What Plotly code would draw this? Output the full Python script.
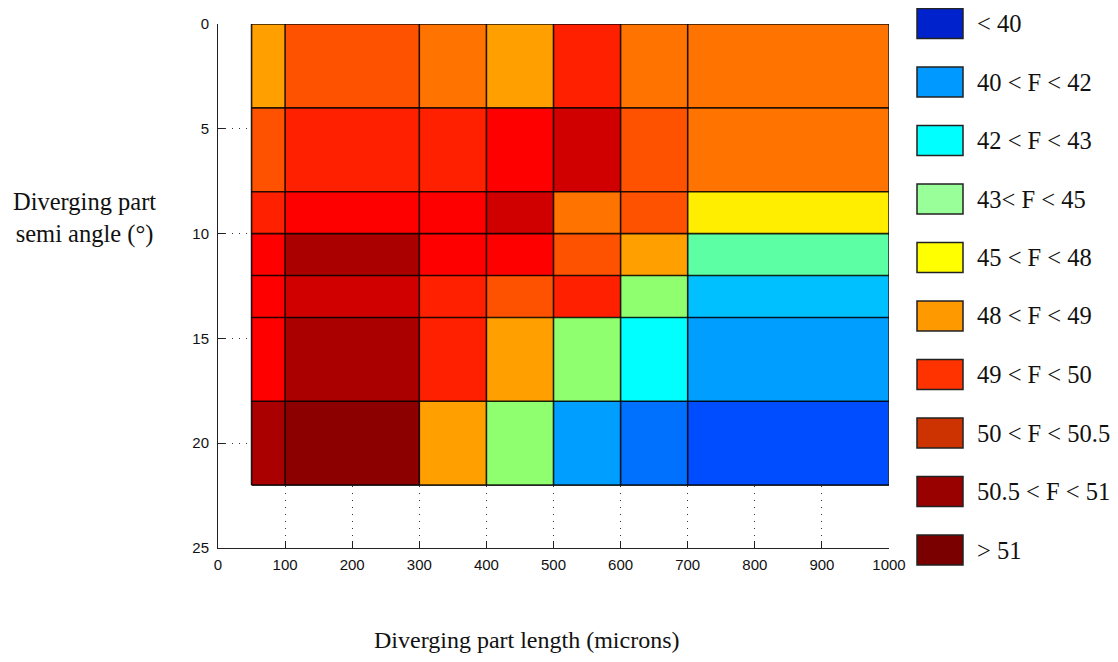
import plotly.graph_objects as go

# ---------------- data ----------------
# cell edges (non-uniform grid)
x_edges = [50, 100, 300, 400, 500, 600, 700, 1000]      # diverging part length (microns)
y_edges = [0, 4, 8, 10, 12, 14, 18, 22]                 # semi angle (deg)

# colour level of every cell on the jet colour map (0-100), rows top -> bottom
row_0_4 = [71.9, 79.5, 76.1, 71.9, 84.4, 76.1, 76.1]
row_4_8 = [79.5, 84.4, 84.4, 87.5, 92.1, 79.5, 76.1]
row_8_10 = [84.4, 87.5, 87.5, 92.1, 76.1, 79.5, 64.2]
row_10_12 = [87.5, 95.8, 87.5, 87.5, 79.5, 71.9, 46.5]
row_12_14 = [87.5, 92.1, 84.4, 79.5, 84.4, 51.5, 31.3]
row_14_18 = [87.5, 95.8, 84.4, 71.9, 51.5, 37.5, 28.1]
row_18_22 = [95.8, 98.8, 71.9, 51.5, 28.1, 23.5, 20.0]
levels = [row_0_4, row_4_8, row_8_10, row_10_12, row_12_14, row_14_18, row_18_22]

x_ticks = [0, 100, 200, 300, 400, 500, 600, 700, 800, 900, 1000]
y_ticks = [0, 5, 10, 15, 20, 25]

legend_labels = ["< 40", "40 < F < 42", "42 < F < 43", "43< F < 45", "45 < F < 48",
                 "48 < F < 49", "49 < F < 50", "50 < F < 50.5", "50.5 < F < 51", "> 51"]

# ---------------- styles ----------------
legend_colors = ["#0022CC", "#0099FF", "#00FFFF", "#99FF99", "#FFFF00",
                 "#FF9900", "#FF3300", "#CC3300", "#990000", "#7A0000"]
jet = [[0.0, "rgb(0,0,128)"], [0.125, "rgb(0,0,255)"], [0.375, "rgb(0,255,255)"],
       [0.625, "rgb(255,255,0)"], [0.875, "rgb(255,0,0)"], [1.0, "rgb(128,0,0)"]]

OFF = 8                      # page body margin of the browser
W, H = 1118 - 2 * OFF, 662 - 2 * OFF
L, R, T, B = 218 - OFF, 889 - OFF, 24 - OFF, 548 - OFF   # plot area in figure pixels


def px(xp):
    """reference (window) pixel x -> paper coordinate"""
    return (xp - OFF - L) / (R - L)


def py(yp):
    """reference (window) pixel y -> paper coordinate"""
    return (B - (yp - OFF)) / (B - T)


fig = go.Figure()
fig.add_trace(go.Heatmap(
    x=x_edges, y=y_edges, z=levels, colorscale=jet, zmin=0, zmax=100,
    showscale=False, hoverinfo="skip"))

# cell borders
bx, by = [], []
for xe in x_edges:
    bx += [xe, xe, None]
    by += [y_edges[0], y_edges[-1], None]
for ye in y_edges:
    bx += [x_edges[0], x_edges[-1], None]
    by += [ye, ye, None]
fig.add_trace(go.Scatter(x=bx, y=by, mode="lines",
                         line=dict(color="rgba(0,0,0,0.85)", width=1.6),
                         hoverinfo="skip", showlegend=False))

tick_font = dict(family="Liberation Sans, Arial, sans-serif", size=15, color="#111")
axis_common = dict(showline=True, linecolor="#222", linewidth=1, ticks="inside",
                   ticklen=7, tickcolor="#222", tickwidth=1, tickfont=tick_font,
                   showgrid=True, gridcolor="#333", gridwidth=1, griddash="1px,6px",
                   zeroline=False, mirror=False, automargin=False)
fig.update_xaxes(range=[0, 1000], tickvals=x_ticks, ticklabelstandoff=3, **axis_common)
fig.update_yaxes(range=[25, 0], tickvals=y_ticks, ticklabelstandoff=5, **axis_common)

shapes = []
annotations = []
serif = "Liberation Serif, Times New Roman, serif"
row_h = 58.5
for i, (lab, col) in enumerate(zip(legend_labels, legend_colors)):
    cy = 23.5 + i * row_h
    shapes.append(dict(type="rect", xref="paper", yref="paper",
                       x0=px(917), x1=px(963), y0=py(cy + 15), y1=py(cy - 15),
                       fillcolor=col, line=dict(color="#222", width=1.5)))
    annotations.append(dict(xref="paper", yref="paper", x=px(975), y=py(cy),
                            xanchor="left", yanchor="middle", showarrow=False,
                            text=lab.replace("<", "&lt;").replace(">", "&gt;"),
                            font=dict(family=serif, size=24.5, color="#111")))

annotations.append(dict(xref="paper", yref="paper", x=px(84), y=py(218),
                        xanchor="center", yanchor="middle", showarrow=False,
                        text="Diverging part<br>semi angle (°)",
                        font=dict(family=serif, size=24.5, color="#111")))
annotations.append(dict(xref="paper", yref="paper", x=px(526), y=py(640),
                        xanchor="center", yanchor="middle", showarrow=False,
                        text="Diverging part length (microns)",
                        font=dict(family=serif, size=24, color="#111")))

fig.update_layout(width=W, height=H, margin=dict(l=L, r=W - R, t=T, b=H - B),
                  plot_bgcolor="white", paper_bgcolor="white",
                  shapes=shapes, annotations=annotations, showlegend=False)

fig.write_html("out.html")
